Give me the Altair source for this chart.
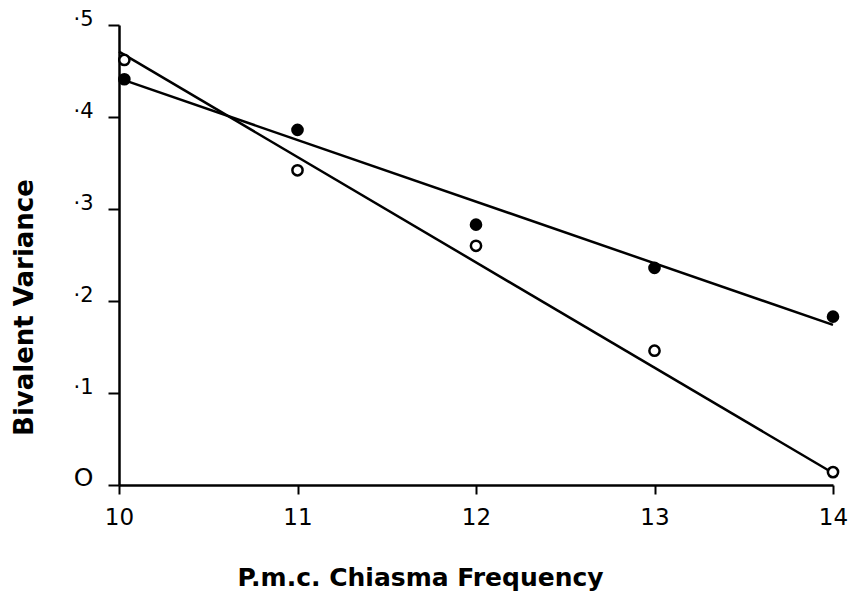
import altair as alt
import pandas as pd

# Data
x_vals = [10.03, 11, 12, 13, 14]
filled_vals = [0.441, 0.386, 0.283, 0.236, 0.183]
open_vals = [0.462, 0.342, 0.260, 0.146, 0.014]

# fitted lines (end points)
line_x = [10, 14]
filled_line = [0.442, 0.174]
open_line = [0.471, 0.013]

y_ticks = [0, 0.1, 0.2, 0.3, 0.4, 0.5]
x_ticks = [10, 11, 12, 13, 14]

pts = pd.DataFrame({"x": x_vals * 2,
                    "y": filled_vals + open_vals,
                    "kind": ["filled"] * 5 + ["open"] * 5})
lines = pd.DataFrame({"x": line_x * 2,
                      "y": filled_line + open_line,
                      "kind": ["filled"] * 2 + ["open"] * 2})

FONT = "DejaVu Sans"

xscale = alt.Scale(domain=[10, 14], nice=False, zero=False)
yscale = alt.Scale(domain=[0, 0.5], nice=False)

xaxis = alt.Axis(values=x_ticks, format="d", title="P.m.c. Chiasma Frequency", grid=False,
                 tickSize=9, tickWidth=2, tickColor="black",
                 domainColor="black", domainWidth=2.5,
                 labelFontSize=23, labelPadding=12, labelFont=FONT,
                 labelColor="black", labelFlush=False, labelOverlap=False,
                 titleFont=FONT, titleFontSize=25, titleFontWeight="bold",
                 titleColor="black",
                 titleX=301, titleY=100, titleBaseline="alphabetic",
                 titleAlign="center")
yaxis = alt.Axis(values=y_ticks, title="Bivalent Variance", grid=False,
                 tickSize=11, tickWidth=2, tickColor="black",
                 domainColor="black", domainWidth=2.5,
                 labelExpr="datum.value == 0 ? 'O' : '·' + format(datum.value*10, 'd')",
                 labelFontSize={"condition": {"test": "datum.value == 0", "value": 25},
                                "value": 21},
                 labelPadding=15, labelFont=FONT,
                 labelColor="black", labelBaseline="alphabetic", labelOffset=0,
                 labelFlush=False, labelOverlap=False,
                 titleFont=FONT, titleFontSize=26, titleFontWeight="bold",
                 titleColor="black", titleAngle=-90,
                 titleX=-95, titleY=282, titleBaseline="middle",
                 titleAlign="center")

base_x = alt.X("x:Q", scale=xscale, axis=xaxis)
base_y = alt.Y("y:Q", scale=yscale, axis=yaxis)

line_layer = alt.Chart(lines).mark_line(color="black", strokeWidth=2.5).encode(
    x=base_x, y=base_y, detail="kind:N")

filled_layer = alt.Chart(pts).transform_filter("datum.kind == 'filled'").mark_point(
    shape="circle", filled=True, color="black", size=160, opacity=1).encode(
    x="x:Q", y="y:Q")

open_layer = alt.Chart(pts).transform_filter("datum.kind == 'open'").mark_point(
    shape="circle", filled=True, fill="white", stroke="black", strokeWidth=2.5,
    size=105, opacity=1).encode(x="x:Q", y="y:Q")

chart = alt.layer(line_layer, filled_layer, open_layer).properties(
    width=714, height=460,
    autosize=alt.AutoSizeParams(type="none"),
    padding={"left": 111, "top": 17, "right": 15, "bottom": 108},
    background="white",
).configure_view(stroke=None)

chart.save("out.html", embed_options={"renderer": "svg", "actions": False})
